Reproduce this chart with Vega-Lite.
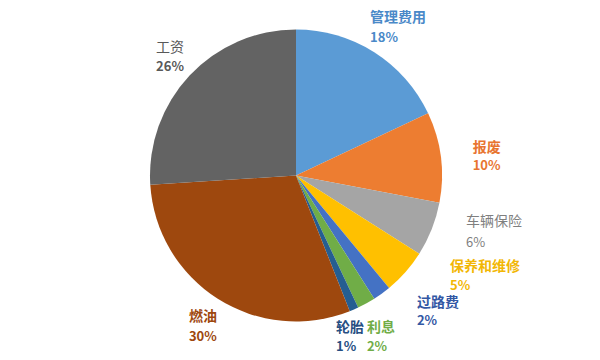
{
  "$schema": "https://vega.github.io/schema/vega-lite/v6.json",
  "width": 600,
  "height": 360,
  "autosize": {"type": "fit", "contains": "padding"},
  "padding": {"left": 0, "top": 0, "right": 8, "bottom": 3},
  "background": "white",
  "view": {"stroke": null},
  "data": {
    "values": [
      {"i": 1, "cat": "管理费用", "pct": 18, "label": "18%"},
      {"i": 2, "cat": "报废", "pct": 10, "label": "10%"},
      {"i": 3, "cat": "车辆保险", "pct": 6, "label": "6%"},
      {"i": 4, "cat": "保养和维修", "pct": 5, "label": "5%"},
      {"i": 5, "cat": "过路费", "pct": 2, "label": "2%"},
      {"i": 6, "cat": "利息", "pct": 2, "label": "2%"},
      {"i": 7, "cat": "轮胎", "pct": 1, "label": "1%"},
      {"i": 8, "cat": "燃油", "pct": 30, "label": "30%"},
      {"i": 9, "cat": "工资", "pct": 26, "label": "26%"}
    ]
  },
  "encoding": {
    "theta": {"field": "pct", "type": "quantitative", "stack": true},
    "order": {"field": "i", "type": "quantitative"}
  },
  "layer": [
    {
      "mark": {"type": "arc", "outerRadius": 146},
      "encoding": {
        "color": {
          "field": "cat", "type": "nominal", "legend": null,
          "scale": {
            "domain": ["管理费用", "报废", "车辆保险", "保养和维修", "过路费", "利息", "轮胎", "燃油", "工资"],
            "range": ["#5B9BD5", "#ED7D31", "#A5A5A5", "#FFC000", "#4472C4", "#70AD47", "#255E91", "#9E480E", "#636363"]
          }
        }
      }
    },
    {"mark": {"type": "text", "radius": 170, "align": "left", "baseline": "middle", "dx": -17, "dy": -13.5, "font": "Noto Sans CJK SC", "fontSize": 14, "fontWeight": "bold", "fill": "#4A89C8"},
     "encoding": {"text": {"condition": {"test": "datum.cat === '管理费用'", "field": "cat"}, "value": ""}}},
    {"mark": {"type": "text", "radius": 170, "align": "left", "baseline": "middle", "dx": -17, "dy": 6, "font": "Noto Sans CJK SC", "fontSize": 13, "fontWeight": "bold", "fill": "#4A89C8"},
     "encoding": {"text": {"condition": {"test": "datum.cat === '管理费用'", "field": "label"}, "value": ""}}},

    {"mark": {"type": "text", "radius": 170, "align": "left", "baseline": "middle", "dx": 8, "dy": -6, "font": "Noto Sans CJK SC", "fontSize": 14, "fontWeight": "bold", "fill": "#E87530"},
     "encoding": {"text": {"condition": {"test": "datum.cat === '报废'", "field": "cat"}, "value": ""}}},
    {"mark": {"type": "text", "radius": 170, "align": "left", "baseline": "middle", "dx": 8, "dy": 12, "font": "Noto Sans CJK SC", "fontSize": 13, "fontWeight": "bold", "fill": "#E87530"},
     "encoding": {"text": {"condition": {"test": "datum.cat === '报废'", "field": "label"}, "value": ""}}},

    {"mark": {"type": "text", "radius": 170, "align": "left", "baseline": "middle", "dx": 12, "dy": -16, "font": "Noto Sans CJK SC", "fontSize": 14, "fontWeight": "normal", "fill": "#7F7F7F"},
     "encoding": {"text": {"condition": {"test": "datum.cat === '车辆保险'", "field": "cat"}, "value": ""}}},
    {"mark": {"type": "text", "radius": 170, "align": "left", "baseline": "middle", "dx": 12, "dy": 5, "font": "Noto Sans CJK SC", "fontSize": 13, "fontWeight": "normal", "fill": "#7F7F7F"},
     "encoding": {"text": {"condition": {"test": "datum.cat === '车辆保险'", "field": "label"}, "value": ""}}},

    {"mark": {"type": "text", "radius": 170, "align": "left", "baseline": "middle", "dx": 26.5, "dy": -21, "font": "Noto Sans CJK SC", "fontSize": 14, "fontWeight": "bold", "fill": "#F2B705"},
     "encoding": {"text": {"condition": {"test": "datum.cat === '保养和维修'", "field": "cat"}, "value": ""}}},
    {"mark": {"type": "text", "radius": 170, "align": "left", "baseline": "middle", "dx": 26.5, "dy": -2, "font": "Noto Sans CJK SC", "fontSize": 13, "fontWeight": "bold", "fill": "#F2B705"},
     "encoding": {"text": {"condition": {"test": "datum.cat === '保养和维修'", "field": "label"}, "value": ""}}},

    {"mark": {"type": "text", "radius": 170, "align": "left", "baseline": "middle", "dx": 21, "dy": -10, "font": "Noto Sans CJK SC", "fontSize": 14, "fontWeight": "bold", "fill": "#3358A4"},
     "encoding": {"text": {"condition": {"test": "datum.cat === '过路费'", "field": "cat"}, "value": ""}}},
    {"mark": {"type": "text", "radius": 170, "align": "left", "baseline": "middle", "dx": 21, "dy": 8, "font": "Noto Sans CJK SC", "fontSize": 13, "fontWeight": "bold", "fill": "#3358A4"},
     "encoding": {"text": {"condition": {"test": "datum.cat === '过路费'", "field": "label"}, "value": ""}}},

    {"mark": {"type": "text", "radius": 170, "align": "left", "baseline": "middle", "dx": -11, "dy": 3.5, "font": "Noto Sans CJK SC", "fontSize": 14, "fontWeight": "bold", "fill": "#70AD47"},
     "encoding": {"text": {"condition": {"test": "datum.cat === '利息'", "field": "cat"}, "value": ""}}},
    {"mark": {"type": "text", "radius": 170, "align": "left", "baseline": "middle", "dx": -11, "dy": 22.5, "font": "Noto Sans CJK SC", "fontSize": 13, "fontWeight": "bold", "fill": "#70AD47"},
     "encoding": {"text": {"condition": {"test": "datum.cat === '利息'", "field": "label"}, "value": ""}}},

    {"mark": {"type": "text", "radius": 170, "align": "left", "baseline": "middle", "dx": -27.5, "dy": -3.5, "font": "Noto Sans CJK SC", "fontSize": 14, "fontWeight": "bold", "fill": "#264E82"},
     "encoding": {"text": {"condition": {"test": "datum.cat === '轮胎'", "field": "cat"}, "value": ""}}},
    {"mark": {"type": "text", "radius": 170, "align": "left", "baseline": "middle", "dx": -27.5, "dy": 15.5, "font": "Noto Sans CJK SC", "fontSize": 13, "fontWeight": "bold", "fill": "#264E82"},
     "encoding": {"text": {"condition": {"test": "datum.cat === '轮胎'", "field": "label"}, "value": ""}}},

    {"mark": {"type": "text", "radius": 170, "align": "left", "baseline": "middle", "dx": -16, "dy": -2, "font": "Noto Sans CJK SC", "fontSize": 14, "fontWeight": "bold", "fill": "#9E480E"},
     "encoding": {"text": {"condition": {"test": "datum.cat === '燃油'", "field": "cat"}, "value": ""}}},
    {"mark": {"type": "text", "radius": 170, "align": "left", "baseline": "middle", "dx": -16, "dy": 18, "font": "Noto Sans CJK SC", "fontSize": 13, "fontWeight": "bold", "fill": "#9E480E"},
     "encoding": {"text": {"condition": {"test": "datum.cat === '燃油'", "field": "label"}, "value": ""}}},

    {"mark": {"type": "text", "radius": 170, "align": "left", "baseline": "middle", "dx": -16, "dy": -11, "font": "Noto Sans CJK SC", "fontSize": 14, "fontWeight": "normal", "fill": "#595959"},
     "encoding": {"text": {"condition": {"test": "datum.cat === '工资'", "field": "cat"}, "value": ""}}},
    {"mark": {"type": "text", "radius": 170, "align": "left", "baseline": "middle", "dx": -16, "dy": 8, "font": "Noto Sans CJK SC", "fontSize": 13, "fontWeight": "bold", "fill": "#595959"},
     "encoding": {"text": {"condition": {"test": "datum.cat === '工资'", "field": "label"}, "value": ""}}}
  ]
}
